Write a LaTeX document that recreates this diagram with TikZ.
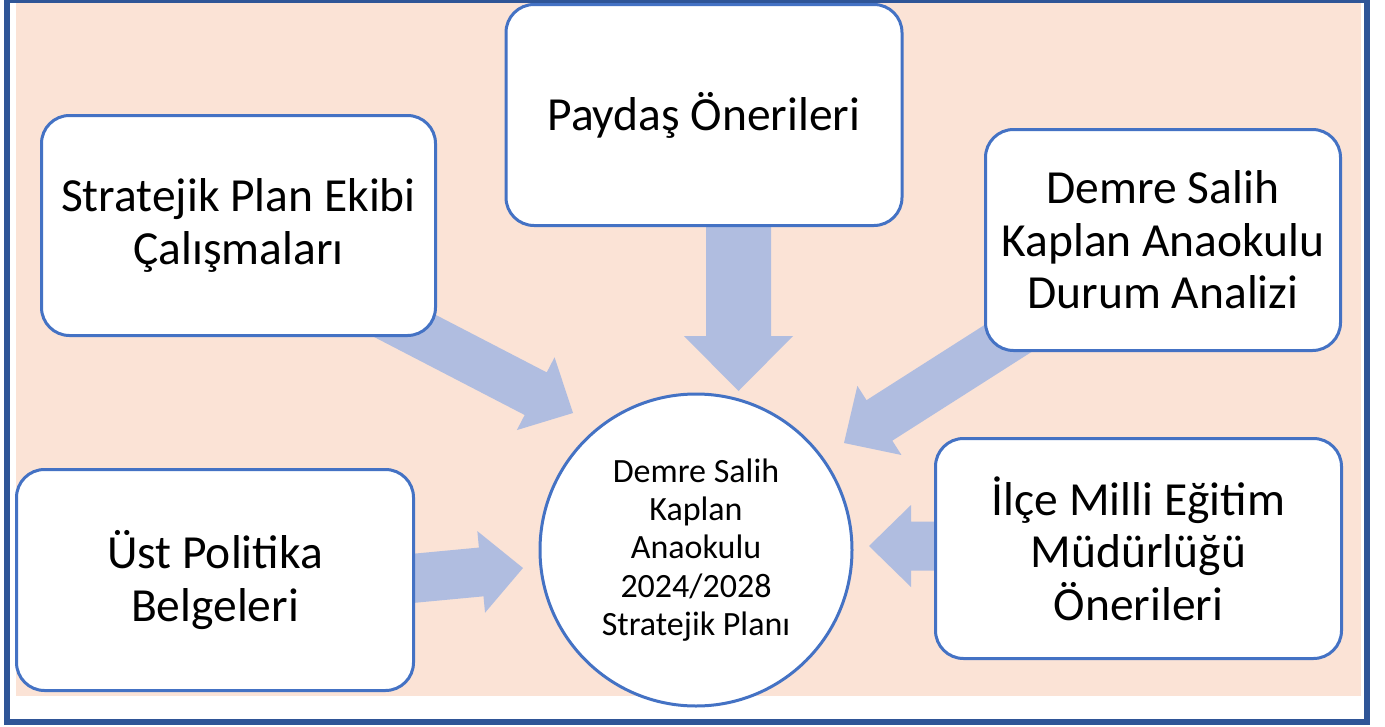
\documentclass[tikz,border=0pt]{standalone}
\usepackage{fontspec}
\setmainfont{Carlito}
\usetikzlibrary{calc}
\definecolor{peach}{HTML}{FBE3D6}
\definecolor{boxblue}{HTML}{4472C4}
\definecolor{frameblue}{HTML}{2F5597}
\definecolor{arrowblue}{HTML}{B0BDE0}
\pgfdeclarelayer{bg}
\pgfdeclarelayer{arr}
\pgfsetlayers{bg,arr,main}
% tail, tip, name, half shaft, half head, head length
\newcommand\blockarrow[6]{%
  \coordinate (#3h) at ($(#2)!#6!(#1)$);
  \fill[arrowfill] (#2) -- ($(#3h)!#5!90:(#2)$) -- ($(#3h)!#4!90:(#2)$)
    -- ($(#1)!#4!90:(#2)$) -- ($(#1)!#4!-90:(#2)$)
    -- ($(#3h)!#4!-90:(#2)$) -- ($(#3h)!#5!-90:(#2)$) -- cycle;
}
\tikzset{
  box/.style={draw=boxblue, line width=3pt, fill=white, rounded corners=28pt,
    inner sep=0pt, outer sep=0pt, align=center,
    font=\fontsize{47.5}{52.5}\selectfont},
  hub/.style={circle, draw=boxblue, line width=3pt, fill=white,
    minimum size=312pt, inner sep=0pt, outer sep=0pt, align=center,
    font=\fontsize{34}{38.3}\selectfont},
  arrowfill/.style={fill=arrowblue},
}
\begin{document}
\begin{tikzpicture}[x=1pt,y=-1pt]
\useasboundingbox (0,0) rectangle (1385,726);
\begin{pgfonlayer}{bg}
  \fill[white] (0,0) rectangle (1385,726);
  \fill[peach] (16,3) rectangle (1361,696);
  \draw[frameblue, line width=6pt] (7,0) rectangle (1367,722);
\end{pgfonlayer}

\node[box, minimum width=394pt, minimum height=220pt] (plan) at (238.5,225.5)
  {Stratejik Plan Ekibi\\Çalışmaları};
\node[box, minimum width=396pt, minimum height=221pt] (paydas) at (704,115)
  {Paydaş Önerileri};
\node[box, minimum width=355pt, minimum height=221pt] (durum) at (1163,240)
  {Demre Salih\\Kaplan Anaokulu\\Durum Analizi};
\node[box, minimum width=397pt, minimum height=221pt] (ust) at (215,580)
  {Üst Politika\\Belgeleri};
\node[box, minimum width=406pt, minimum height=220pt] (ilce) at (1138.5,548.5)
  {İlçe Milli Eğitim\\Müdürlüğü\\Önerileri};
\node[hub] (hub) at (696,550)
  {Demre Salih\\Kaplan\\Anaokulu\\2024/2028\\Stratejik Planı};

\coordinate (tPlan) at (351,298);
\coordinate (pPlan) at (573,413);
\coordinate (tPay) at (738.5,150);
\coordinate (pPay) at (738.5,391);
\coordinate (tDur) at (1055,308.5);
\coordinate (pDur) at (844,443);
\coordinate (tUst) at (300,589);
\coordinate (pUst) at (523,568);
\coordinate (tIlce) at (1100,546);
\coordinate (pIlce) at (869,546);

\begin{pgfonlayer}{arr}
  \blockarrow{tPlan}{pPlan}{aPlan}{24pt}{41pt}{42pt}
  \blockarrow{tPay}{pPay}{aPay}{32.5pt}{54.5pt}{55pt}
  \blockarrow{tDur}{pDur}{aDur}{24pt}{41pt}{42pt}
  \blockarrow{tUst}{pUst}{aUst}{24.5pt}{41pt}{42pt}
  \blockarrow{tIlce}{pIlce}{aIlce}{24.5pt}{41pt}{42pt}
\end{pgfonlayer}
\end{tikzpicture}
\end{document}
